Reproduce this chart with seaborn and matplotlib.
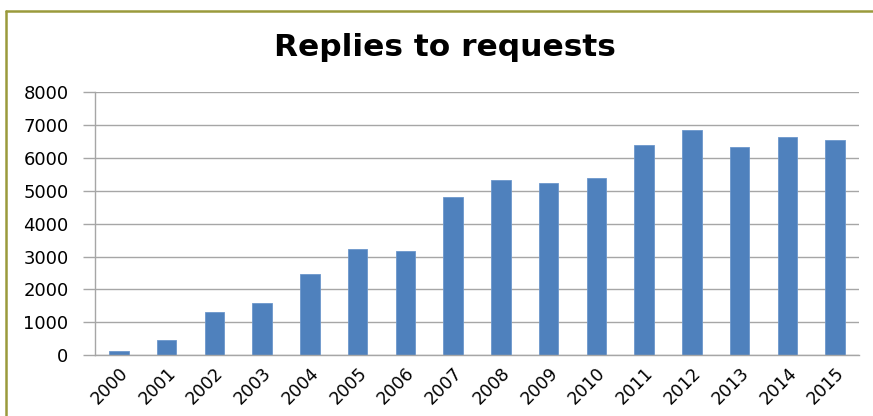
import pandas as pd
import seaborn as sns
import matplotlib.pyplot as plt
from matplotlib.lines import Line2D

# Данні з графіка
years = ["2000", "2001", "2002", "2003", "2004", "2005", "2006", "2007",
         "2008", "2009", "2010", "2011", "2012", "2013", "2014", "2015"]
replies = [120, 470, 1300, 1590, 2460, 3240, 3160, 4820,
           5330, 5240, 5380, 6390, 6850, 6340, 6630, 6530]
y_ticks = [0, 1000, 2000, 3000, 4000, 5000, 6000, 7000, 8000]


def main():
    df = pd.DataFrame({"year": years, "replies": replies})

    sns.set_style("white")
    plt.rcParams["font.family"] = ["DejaVu Sans"]

    fig = plt.figure(figsize=(8.73, 4.16), dpi=100)
    ax = fig.add_axes([0.1088, 0.146, 0.984 - 0.1088, 0.779 - 0.146])

    sns.barplot(data=df, x="year", y="replies", color="#4F81BD", width=0.41,
                edgecolor="#6C97CC", linewidth=0.6, saturation=1, ax=ax)

    ax.set_ylim(0, 8000)
    ax.set_xlim(-0.5, len(years) - 0.5)
    ax.set_yticks(y_ticks)
    ax.set_yticklabels([str(v) for v in y_ticks], fontsize=13, color="black")
    ax.yaxis.grid(True, color="#A6A6A6", linewidth=1)
    ax.set_axisbelow(True)

    # мітки категорій
    ax.set_xticks(range(len(years)))
    ax.set_xticklabels(years, rotation=45, ha="right", rotation_mode="anchor",
                       fontsize=12.5, color="black")
    ax.tick_params(axis="x", which="major", length=0, pad=6)
    ax.set_xticks([i - 0.5 for i in range(len(years) + 1)], minor=True)
    ax.tick_params(axis="x", which="minor", length=5, color="#A6A6A6", width=1)
    ax.tick_params(axis="y", length=9, color="#A6A6A6", width=1, left=True, pad=10)

    for s in ["top", "right"]:
        ax.spines[s].set_visible(False)
    for s in ["left", "bottom"]:
        ax.spines[s].set_color("#A6A6A6")
        ax.spines[s].set_linewidth(1)

    ax.set_xlabel("")
    ax.set_ylabel("")

    fig.text(0.51, 0.887, "Replies to requests", ha="center", va="center",
             fontsize=22.5, fontweight="bold", color="black")

    # рамка
    fig.add_artist(Line2D([6 / 873, 1], [1 - 11 / 416, 1 - 11 / 416],
                          color="#9A9A3C", linewidth=1.8, transform=fig.transFigure))
    fig.add_artist(Line2D([6 / 873, 6 / 873], [0, 1 - 11 / 416],
                          color="#9A9A3C", linewidth=1.8, transform=fig.transFigure))

    fig.savefig("out.png", dpi=100)


main()
